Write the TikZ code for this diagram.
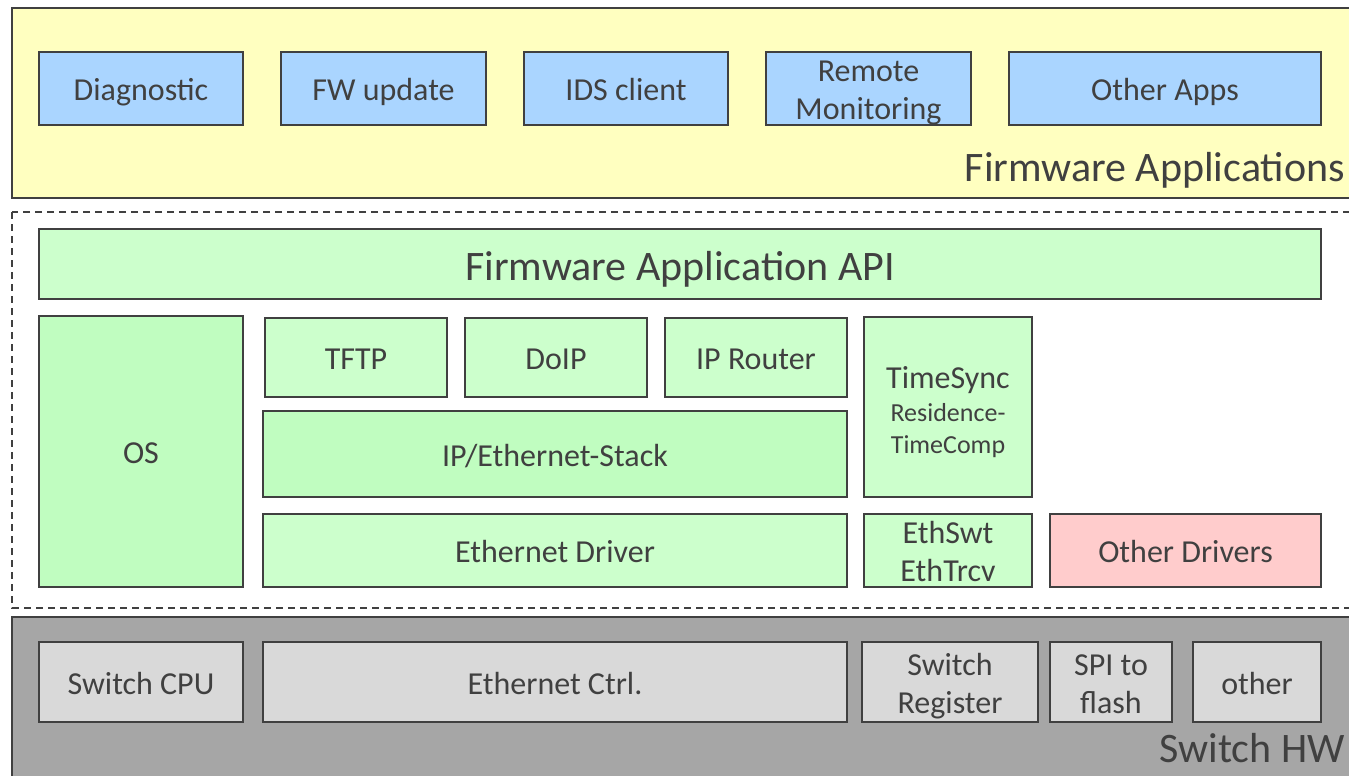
\documentclass[tikz,border=0pt]{standalone}
\usepackage{fontspec}
\setmainfont{Carlito}
\definecolor{ink}{HTML}{404040}
\definecolor{appyellow}{HTML}{FFFFC0}
\definecolor{appblue}{HTML}{AAD5FF}
\definecolor{swgreen}{HTML}{CCFFCC}
\definecolor{swgreendk}{HTML}{C0FDC0}
\definecolor{drvpink}{HTML}{FFCCCC}
\definecolor{hwgray}{HTML}{A6A6A6}
\definecolor{hwlight}{HTML}{D9D9D9}
\tikzset{
  layer/.style={draw=ink, line width=2pt},
  blk/.style={draw=ink, line width=2pt, inner sep=0pt, align=center,
    text=ink, font=\fontsize{32}{38}\selectfont,
    text height=24.7pt, text depth=0pt},
  twoline/.style={text height=62.7pt},
  app/.style={blk, fill=appblue},
  sw/.style={blk, fill=swgreen},
  hw/.style={blk, fill=hwlight},
  biglabel/.style={text=ink, inner sep=0pt, font=\fontsize{42}{50}\selectfont},
  tstext/.style={text=ink, inner sep=0pt, text depth=0pt},
}
% place a block by its left, top, right, bottom edges (y grows downward)
\newcommand{\blockat}[7]{%
  \node[#1, minimum width={#5-#3}, minimum height={#6-#4}]
    (#2) at ({(#3+#5)/2},{(#4+#6)/2}) {#7};}
\begin{document}
\begin{tikzpicture}[x=1pt,y=-1pt]
\useasboundingbox (0,0) rectangle (1349,776);
\clip (0,0) rectangle (1349,776);
\fill[white] (0,0) rectangle (1349,776);

% layer frames
\draw[layer, fill=appyellow] (12,8) rectangle (1365,198);
\draw[draw=ink, line width=1.3pt, dash pattern=on 7pt off 5pt] (12,212) rectangle (1365,608);
\draw[layer, fill=hwgray] (12,617) rectangle (1365,790);

% firmware applications
\blockat{app}{diag}{39}{52}{243}{125}{Diagnostic}
\blockat{app}{fwupd}{281}{52}{486}{125}{FW update}
\blockat{app}{ids}{524}{52}{728}{125}{IDS client}
\blockat{app, twoline}{remote}{766}{52}{971}{125}{Remote\\Monitoring}
\blockat{app}{otherapps}{1009}{52}{1321}{125}{Other Apps}
\node[biglabel, anchor=base east] (fwapps) at (1345,181) {Firmware Applications};

% platform software
\blockat{sw, font=\fontsize{42}{50}\selectfont, text height=32pt}{api}{39}{229}{1321}{299}{Firmware Application API}
\blockat{sw, fill=swgreendk}{os}{39}{316}{243}{587}{OS}
\blockat{sw}{tftp}{265}{318}{447}{397}{TFTP}
\blockat{sw}{doip}{465}{318}{647}{397}{DoIP}
\blockat{sw}{iprouter}{665}{318}{847}{397}{IP Router}
\blockat{sw, fill=swgreendk}{ipstack}{263}{411}{847}{497}{IP/Ethernet-Stack}
\blockat{sw}{ethdrv}{263}{514}{847}{587}{Ethernet Driver}
\blockat{sw}{timesync}{864}{317}{1032}{497}{}
\node[tstext, font=\fontsize{32}{38}\selectfont, text height=23pt] (tsname) at (948,377) {TimeSync};
\node[tstext, font=\fontsize{26}{32}\selectfont, text height=19pt] (tsres) at (948,412) {Residence-};
\node[tstext, font=\fontsize{26}{32}\selectfont, text height=19pt] (tscomp) at (948,444) {TimeComp};
\blockat{sw, twoline}{ethswt}{864}{514}{1032}{587}{EthSwt\\EthTrcv}
\blockat{blk, fill=drvpink}{otherdrv}{1050}{514}{1321}{587}{Other Drivers}

% switch hardware
\blockat{hw}{cpu}{39}{642}{243}{722}{Switch CPU}
\blockat{hw}{ethctrl}{263}{642}{847}{722}{Ethernet Ctrl.}
\blockat{hw, twoline}{swreg}{862}{642}{1038}{722}{Switch\\Register}
\blockat{hw, twoline}{spi}{1050}{642}{1172}{722}{SPI to\\flash}
\blockat{hw}{otherhw}{1193}{642}{1321}{722}{other}
\node[biglabel, anchor=base east] (swhw) at (1345,762) {Switch HW};
\end{tikzpicture}
\end{document}
